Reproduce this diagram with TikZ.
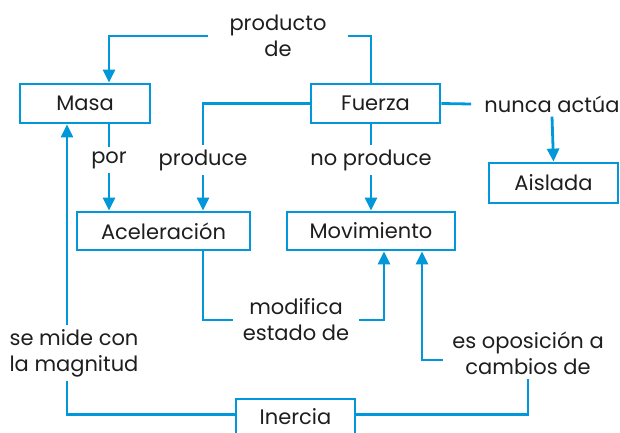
\documentclass[tikz,border=0pt]{standalone}
\usepackage{fontspec}
\setmainfont{Poppins}
\usetikzlibrary{calc,positioning,arrows.meta}
\definecolor{azul}{RGB}{0,152,218}
\definecolor{texto}{RGB}{30,30,30}
\begin{document}
\begin{tikzpicture}[x=1pt, y=-1pt, line width=2.8pt,
  box/.style={draw=azul, line width=2.8pt, minimum width=130pt, minimum height=39pt, inner sep=0pt, font=\fontsize{21}{26}\selectfont, text=texto},
  lbl/.style={inner xsep=8pt, inner ysep=3pt, align=center, font=\fontsize{21}{26}\selectfont, text=texto},
  flecha/.style={draw=azul, -{Triangle[length=13pt, width=12pt]}},
  linea/.style={draw=azul}]
\path[use as bounding box, clip] (0,0) rectangle (620,432);
\path (85,103.5) node[box] (masa) {Masa};
\path (375.5,103.5) node[box, minimum width=129pt] (fuerza) {Fuerza};
\path (553.5,183) node[box, minimum width=129pt, minimum height=40pt] (aislada) {Aislada};
\path (163.5,231) node[box, minimum width=173pt, minimum height=38pt] (acel) {Aceleración};
\path (371,231) node[box, minimum width=168pt, minimum height=38pt] (mov) {Movimiento};
\path (295.5,416.5) node[box, minimum width=119pt, minimum height=35pt] (inercia) {Inercia};
\path (278,36) node[lbl, inner xsep=20pt] (prod) {producto\\de};
\path (109,160) node[lbl] (por) {por};
\path (203,160) node[lbl] (produce) {produce};
\path (371,160) node[lbl] (noprod) {no produce};
\path (552,104) node[lbl, inner xsep=12pt] (nunca) {nunca actúa};
\path (296,320) node[lbl] (modif) {modifica\\estado de};
\path (74,353) node[lbl] (semide) {se mide con\\la magnitud};
\path (528,353) node[lbl] (oposic) {es oposición a\\cambios de};
\draw[flecha] (prod.west) -| ([xshift=24pt]masa.north);
\draw[linea] (prod.east) -| (fuerza.north -| noprod.north);
\draw[linea] (masa.south -| por.north) -- (por.north);
\draw[flecha] (por.south) -- (acel.north -| por.south);
\draw[linea] (fuerza.west) -| (produce.north);
\draw[flecha] (produce.south) -- (acel.north -| produce.south);
\draw[linea] (fuerza.south -| noprod.north) -- (noprod.north);
\draw[flecha] (noprod.south) -- (mov.north);
\draw[linea] (fuerza.east) -- (nunca.west);
\draw[flecha] (nunca.south) -- (aislada.north);
\draw[linea] ([xshift=39.5pt]acel.south) |- (modif.west);
\draw[flecha] (modif.east) -| ([xshift=13pt]mov.south);
\draw[flecha] ([yshift=-7pt]oposic.west) -| ([xshift=51pt]mov.south);
\draw[flecha] ([xshift=-7pt]semide.north) -- ([xshift=-18pt]masa.south);
\draw[linea] ([xshift=-7pt]semide.south) |- ([yshift=2pt]inercia.west);
\draw[linea] (oposic.south) |- ([yshift=2pt]inercia.east);
\end{tikzpicture}
\end{document}
